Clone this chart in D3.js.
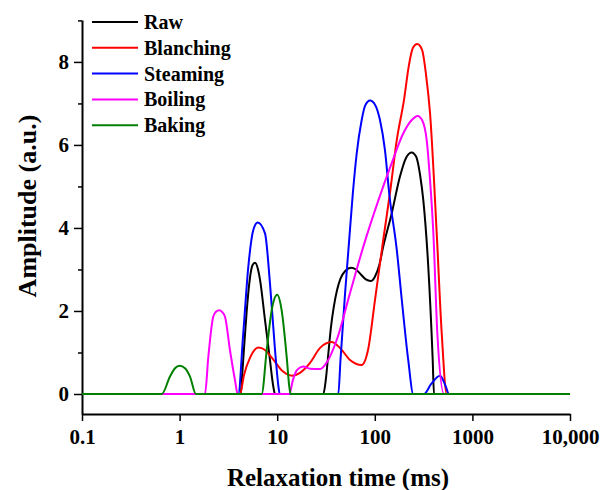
<!DOCTYPE html>
<html>
<head>
<meta charset="utf-8">
<script src="https://cdn.jsdelivr.net/npm/d3@7"></script>
<style>
  body { margin: 0; background: #fff; }
  svg text { font-family: "Liberation Serif", "Times New Roman", serif; font-weight: bold; }
</style>
</head>
<body>
<svg id="chart"></svg>
<script>
// series names / colours (legend order)
const seriesNames = ["Raw", "Blanching", "Steaming", "Boiling", "Baking"];
const seriesColors = ["#000000", "#ff0000", "#0000ff", "#ff00ff", "#008000"];

// [relaxation time (ms), amplitude]
const raw = [
  [0.1, 0], [4.23, 0], [4.36, 0.4], [4.57, 1.1], [4.87, 2.0], [5.26, 2.8], [5.58, 3.1],
  [5.92, 3.16], [6.36, 3.0], [6.67, 2.75], [7.5, 1.78], [8.43, 0.82], [9.12, 0.18], [9.5, 0],
  [29.7, 0], [31.5, 0.35], [33.5, 1.0], [35.5, 1.6], [38.0, 2.1], [41.0, 2.5], [44.5, 2.78],
  [50.0, 2.97], [57.0, 3.04], [64.0, 3.0], [72.0, 2.88], [81.0, 2.76], [90.8, 2.72],
  [100, 2.82], [111, 3.1], [122, 3.55], [149, 4.35], [181, 5.24], [210, 5.7],
  [239, 5.82], [265, 5.72], [290, 5.3], [314, 4.67], [353, 3.07], [392, 0.82], [404, 0], [10000, 0]
];
const blanching = [
  [0.1, 0], [4.16, 0], [4.57, 0.46], [5.26, 0.87], [6.4, 1.12], [7.5, 1.06], [8.84, 0.87],
  [11.5, 0.54], [14.2, 0.44], [17.1, 0.51], [21.7, 0.75], [27.5, 1.11], [36.1, 1.25],
  [44.0, 1.11], [55.7, 0.82], [73.4, 0.7], [85.2, 1.06], [100.5, 2.27], [122, 3.71],
  [143, 4.84], [168, 6.12], [199, 7.08], [224, 7.93], [246, 8.34], [272, 8.43], [305, 8.29],
  [335, 7.69], [368, 6.77], [431, 3.87], [485, 1.46], [546, 0], [10000, 0]
];
const steaming = [
  [0.1, 0], [3.99, 0], [4.49, 1.46], [5.06, 3.07], [5.69, 3.95], [6.31, 4.13], [7.5, 3.87],
  [8.43, 2.67], [9.5, 1.06], [10.3, 0.18], [10.6, 0],
  [42.3, 0], [44.5, 0.82], [49.5, 2.4], [54.8, 3.75], [59.4, 4.8], [65.3, 5.8], [73.4, 6.6],
  [79.4, 6.94], [89.4, 7.07], [100.5, 6.97], [113, 6.6], [127, 5.88], [141, 4.8], [168, 3.47],
  [189, 2.27], [220, 0.82], [248, 0],
  [319, 0], [380, 0.25], [466, 0.44], [530, 0.2], [575, 0], [10000, 0]
];
const boiling = [
  [0.1, 0], [1.82, 0], [1.97, 0.9], [2.21, 1.86], [2.36, 1.98], [2.55, 2.02], [2.72, 1.98],
  [2.92, 1.86], [3.28, 1.06], [3.69, 0.34], [3.94, 0],
  [13.3, 0], [14.5, 0.34], [16.0, 0.58], [18.5, 0.66], [21.7, 0.61], [27.5, 0.6], [32.4, 0.77],
  [40.7, 1.3], [55.7, 2.43], [76.3, 3.55], [109, 4.67], [149, 5.56], [196, 6.28], [239, 6.6],
  [275, 6.7], [305, 6.6], [340, 6.12], [368, 5.16], [398, 3.88], [437, 1.47], [512, 0], [10000, 0]
];
const baking = [
  [0.1, 0], [0.656, 0], [0.797, 0.42], [0.897, 0.62], [1.0, 0.68], [1.136, 0.62], [1.278, 0.42],
  [1.47, 0],
  [6.93, 0], [7.81, 1.06], [8.78, 2.02], [10.0, 2.39], [11.1, 2.02], [12.5, 0.9], [13.3, 0.18],
  [13.7, 0], [10000, 0]
];
const seriesData = [raw, blanching, steaming, boiling, baking];

// axis ticks
const xTickValues = [0.1, 1, 10, 100, 1000, 10000];
const xTickLabels = ["0.1", "1", "10", "100", "1000", "10,000"];
const yMajorTicks = [0, 2, 4, 6, 8];
const yMinorTicks = [1, 3, 5, 7, 9];

const width = 602;
const height = 490;
const margin = { left: 82, right: 32, top: 20, bottom: 76 };

const svg = d3.select("#chart")
    .attr("width", width)
    .attr("height", height);

const x = d3.scaleLog()
    .domain([0.1, 10000])
    .range([margin.left, width - margin.right]);

const y = d3.scaleLinear()
    .domain([-0.482, 9.01])
    .range([height - margin.bottom, margin.top]);

// minor y ticks
svg.append("g")
    .attr("transform", `translate(${margin.left},0)`)
    .call(d3.axisLeft(y).tickValues(yMinorTicks).tickSize(4).tickSizeOuter(0).tickFormat(""))
    .call(g => g.select(".domain").remove())
    .call(g => g.selectAll("line").attr("stroke-width", 1.5));

// major y axis
svg.append("g")
    .attr("transform", `translate(${margin.left},0)`)
    .call(d3.axisLeft(y).tickValues(yMajorTicks).tickSize(8).tickSizeOuter(0).tickPadding(5))
    .call(g => g.select(".domain").attr("stroke-width", 2))
    .call(g => g.selectAll("line").attr("stroke-width", 1.5))
    .call(g => g.selectAll("text").attr("font-size", 21).attr("fill", "#000"));

// x axis
svg.append("g")
    .attr("transform", `translate(0,${height - margin.bottom})`)
    .call(d3.axisBottom(x).tickValues(xTickValues).tickSize(7).tickSizeOuter(0).tickPadding(8)
        .tickFormat((d, i) => xTickLabels[i]))
    .call(g => g.select(".domain").attr("stroke-width", 2))
    .call(g => g.selectAll("line").attr("stroke-width", 1.5))
    .call(g => g.selectAll("text").attr("font-size", 21).attr("fill", "#000"));

// axis titles
svg.append("text")
    .attr("x", 338)
    .attr("y", 486)
    .attr("text-anchor", "middle")
    .attr("font-size", 25)
    .text("Relaxation time (ms)");

svg.append("text")
    .attr("transform", "translate(36,206) rotate(-90)")
    .attr("text-anchor", "middle")
    .attr("font-size", 26)
    .text("Amplitude (a.u.)");

// curves
const line = d3.line()
    .x(d => x(d[0]))
    .y(d => y(d[1]))
    .curve(d3.curveMonotoneX);

svg.selectAll(".curve")
    .data(seriesData)
    .enter()
    .append("path")
    .attr("class", "curve")
    .attr("fill", "none")
    .attr("stroke", (d, i) => seriesColors[i])
    .attr("stroke-width", 2)
    .attr("stroke-linejoin", "round")
    .attr("d", line);

// legend
const legend = svg.append("g").attr("transform", "translate(92,22)");
const rows = legend.selectAll("g")
    .data(seriesNames)
    .enter()
    .append("g")
    .attr("transform", (d, i) => `translate(0,${i * 25.8})`);

rows.append("line")
    .attr("x1", 0)
    .attr("x2", 46)
    .attr("stroke", (d, i) => seriesColors[i])
    .attr("stroke-width", 2);

rows.append("text")
    .attr("x", 52)
    .attr("dy", "0.35em")
    .attr("font-size", 20)
    .text(d => d);
</script>
</body>
</html>
